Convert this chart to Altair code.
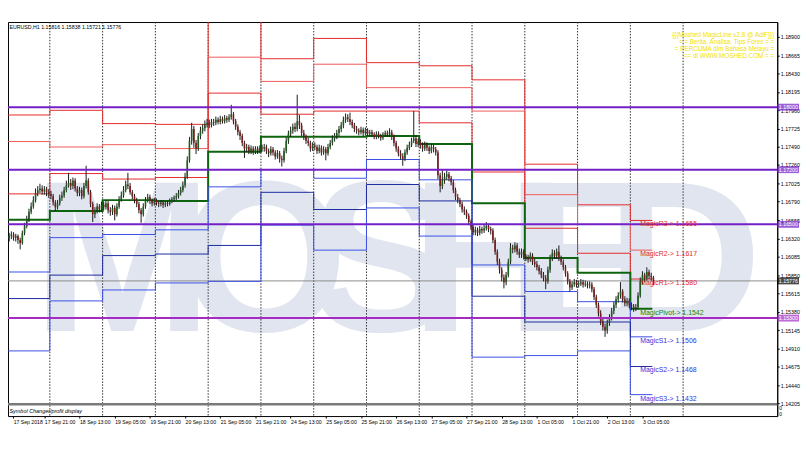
import altair as alt
import pandas as pd

# ---------------- data ----------------
time_labels = ["17 Sep 2018", "17 Sep 21:00", "18 Sep 13:00", "19 Sep 05:00", "19 Sep 21:00",
               "20 Sep 13:00", "21 Sep 05:00", "21 Sep 21:00", "24 Sep 13:00", "25 Sep 05:00",
               "25 Sep 21:00", "26 Sep 13:00", "27 Sep 05:00", "27 Sep 21:00", "28 Sep 13:00",
               "1 Oct 05:00", "1 Oct 21:00", "2 Oct 13:00", "3 Oct 05:00"]
label_every = 16
# H1 bar index where each trading day starts (17 Sep .. 3 Oct, plus 4 Oct grid line)
day_start = [0, 19, 43, 67, 91, 115, 139, 163, 187, 211, 235, 259, 283, 307]

# daily pivot levels (one value per day, 17 Sep .. 3 Oct)
R3 = [1.1790, 1.1796, 1.1779, 1.1778, 1.1938, 1.1862, 1.1888, 1.1857, 1.1853, 1.1835, 1.1727, 1.1675, 1.1655]
R2 = [1.1756, 1.1749, 1.1752, 1.1747, 1.1864, 1.1833, 1.1855, 1.1825, 1.1825, 1.1795, 1.1688, 1.1650, 1.1617]
R1 = [1.1689, 1.1715, 1.1708, 1.1710, 1.1818, 1.1791, 1.1795, 1.1795, 1.1780, 1.1717, 1.1645, 1.1613, 1.1580]
PV = [1.1656, 1.1667, 1.1681, 1.1680, 1.1743, 1.1762, 1.1762, 1.1763, 1.1753, 1.1677, 1.1607, 1.1588, 1.1542]
S1 = [1.1589, 1.1633, 1.1637, 1.1643, 1.1698, 1.1720, 1.1709, 1.1733, 1.1707, 1.1598, 1.1564, 1.1551, 1.1506]
S2 = [1.1555, 1.1585, 1.1610, 1.1612, 1.1623, 1.1691, 1.1669, 1.1701, 1.1680, 1.1558, 1.1525, 1.1525, 1.1468]
S3 = [1.1488, 1.1552, 1.1566, 1.1575, 1.1577, 1.1649, 1.1617, 1.1671, 1.1635, 1.1480, 1.1482, 1.1488, 1.1432]

h_lines = [1.18000, 1.17200, 1.16500, 1.15300]
current_price = 1.15776
y_ticks = [1.14205, 1.14440, 1.14675, 1.14910, 1.15145, 1.15380, 1.15615, 1.15850, 1.16085,
           1.16320, 1.16555, 1.16790, 1.17025, 1.17260, 1.17490, 1.17725, 1.17960, 1.18195,
           1.18430, 1.18665, 1.18900]

first_open = 1.1632
close_17 = [1.1635, 1.1637, 1.1633, 1.1635, 1.1630, 1.1626, 1.1639, 1.1648, 1.1657, 1.1666, 1.1673, 1.1681, 1.1690, 1.1694, 1.1696, 1.1692, 1.1695, 1.1691, 1.1689]
high_17 = [1.1639, 1.1641, 1.1640, 1.1638, 1.1637, 1.1633, 1.1642, 1.1652, 1.1661, 1.1670, 1.1678, 1.1686, 1.1696, 1.1699, 1.1702, 1.1700, 1.1699, 1.1698, 1.1695]
low_17 = [1.1628, 1.1631, 1.1629, 1.1628, 1.1625, 1.1618, 1.1624, 1.1636, 1.1645, 1.1653, 1.1663, 1.1670, 1.1678, 1.1686, 1.1690, 1.1688, 1.1688, 1.1686, 1.1684]
close_18 = [1.1686, 1.1678, 1.1672, 1.1677, 1.1684, 1.1687, 1.1694, 1.1700, 1.1703, 1.1699, 1.1706, 1.1696, 1.1690, 1.1694, 1.1686, 1.1699, 1.1706, 1.1691, 1.1676, 1.1663, 1.1668, 1.1673, 1.1669, 1.1675]
high_18 = [1.1693, 1.1689, 1.1681, 1.1681, 1.1688, 1.1692, 1.1698, 1.1706, 1.1716, 1.1708, 1.1710, 1.1709, 1.1699, 1.1698, 1.1697, 1.1703, 1.1725, 1.1709, 1.1694, 1.1679, 1.1672, 1.1677, 1.1676, 1.1679]
low_18 = [1.1682, 1.1674, 1.1667, 1.1669, 1.1674, 1.1680, 1.1684, 1.1691, 1.1697, 1.1694, 1.1695, 1.1692, 1.1686, 1.1686, 1.1682, 1.1683, 1.1696, 1.1688, 1.1672, 1.1653, 1.1658, 1.1664, 1.1665, 1.1666]
close_19 = [1.1672, 1.1677, 1.1668, 1.1666, 1.1671, 1.1663, 1.1673, 1.1682, 1.1687, 1.1694, 1.1701, 1.1699, 1.1691, 1.1686, 1.1681, 1.1676, 1.1668, 1.1663, 1.1673, 1.1681, 1.1685, 1.1680, 1.1677, 1.1681]
high_19 = [1.1679, 1.1681, 1.1680, 1.1672, 1.1675, 1.1674, 1.1677, 1.1686, 1.1692, 1.1699, 1.1706, 1.1716, 1.1703, 1.1694, 1.1689, 1.1684, 1.1679, 1.1671, 1.1677, 1.1685, 1.1689, 1.1688, 1.1683, 1.1684]
low_19 = [1.1668, 1.1669, 1.1664, 1.1661, 1.1662, 1.1655, 1.1660, 1.1670, 1.1679, 1.1684, 1.1691, 1.1695, 1.1688, 1.1682, 1.1677, 1.1672, 1.1664, 1.1652, 1.1660, 1.1670, 1.1678, 1.1676, 1.1673, 1.1674]
close_20 = [1.1677, 1.1676, 1.1678, 1.1675, 1.1677, 1.1676, 1.1680, 1.1682, 1.1684, 1.1686, 1.1690, 1.1694, 1.1700, 1.1711, 1.1732, 1.1757, 1.1772, 1.1754, 1.1747, 1.1763, 1.1770, 1.1773, 1.1778, 1.1780]
high_20 = [1.1683, 1.1680, 1.1681, 1.1681, 1.1680, 1.1680, 1.1683, 1.1685, 1.1687, 1.1690, 1.1694, 1.1698, 1.1705, 1.1716, 1.1737, 1.1762, 1.1780, 1.1776, 1.1758, 1.1767, 1.1775, 1.1778, 1.1783, 1.1785]
low_20 = [1.1674, 1.1672, 1.1673, 1.1671, 1.1672, 1.1673, 1.1674, 1.1677, 1.1679, 1.1681, 1.1683, 1.1687, 1.1691, 1.1697, 1.1708, 1.1729, 1.1752, 1.1748, 1.1740, 1.1744, 1.1759, 1.1766, 1.1769, 1.1774]
close_21 = [1.1777, 1.1781, 1.1780, 1.1784, 1.1781, 1.1785, 1.1782, 1.1786, 1.1784, 1.1787, 1.1791, 1.1782, 1.1775, 1.1768, 1.1763, 1.1754, 1.1747, 1.1749, 1.1744, 1.1747, 1.1743, 1.1747, 1.1744, 1.1748]
high_21 = [1.1784, 1.1785, 1.1785, 1.1788, 1.1787, 1.1789, 1.1788, 1.1790, 1.1789, 1.1791, 1.1803, 1.1794, 1.1785, 1.1778, 1.1771, 1.1766, 1.1757, 1.1753, 1.1752, 1.1751, 1.1750, 1.1750, 1.1750, 1.1751]
low_21 = [1.1773, 1.1774, 1.1776, 1.1777, 1.1778, 1.1778, 1.1779, 1.1779, 1.1780, 1.1781, 1.1784, 1.1778, 1.1771, 1.1764, 1.1758, 1.1750, 1.1735, 1.1743, 1.1740, 1.1740, 1.1739, 1.1740, 1.1740, 1.1741]
close_24 = [1.1747, 1.1749, 1.1744, 1.1741, 1.1746, 1.1742, 1.1737, 1.1741, 1.1734, 1.1732, 1.1744, 1.1757, 1.1766, 1.1770, 1.1775, 1.1772, 1.1782, 1.1777, 1.1767, 1.1762, 1.1757, 1.1754, 1.1747, 1.1751]
high_24 = [1.1752, 1.1753, 1.1752, 1.1747, 1.1750, 1.1749, 1.1745, 1.1745, 1.1744, 1.1738, 1.1748, 1.1761, 1.1770, 1.1775, 1.1779, 1.1780, 1.1816, 1.1790, 1.1780, 1.1771, 1.1765, 1.1761, 1.1757, 1.1755]
low_24 = [1.1743, 1.1743, 1.1740, 1.1736, 1.1738, 1.1738, 1.1733, 1.1734, 1.1729, 1.1724, 1.1729, 1.1741, 1.1753, 1.1762, 1.1766, 1.1768, 1.1769, 1.1772, 1.1763, 1.1758, 1.1753, 1.1750, 1.1743, 1.1744]
close_25 = [1.1749, 1.1744, 1.1748, 1.1742, 1.1746, 1.1741, 1.1749, 1.1754, 1.1760, 1.1763, 1.1767, 1.1772, 1.1777, 1.1784, 1.1787, 1.1785, 1.1781, 1.1777, 1.1772, 1.1770, 1.1768, 1.1771, 1.1767, 1.1770]
high_25 = [1.1755, 1.1752, 1.1752, 1.1751, 1.1750, 1.1749, 1.1753, 1.1758, 1.1764, 1.1767, 1.1771, 1.1776, 1.1781, 1.1788, 1.1792, 1.1791, 1.1793, 1.1784, 1.1780, 1.1776, 1.1773, 1.1775, 1.1774, 1.1774]
low_25 = [1.1745, 1.1740, 1.1741, 1.1738, 1.1739, 1.1732, 1.1738, 1.1746, 1.1751, 1.1756, 1.1759, 1.1763, 1.1768, 1.1773, 1.1780, 1.1781, 1.1777, 1.1773, 1.1768, 1.1766, 1.1764, 1.1765, 1.1763, 1.1764]
close_26 = [1.1766, 1.1768, 1.1765, 1.1762, 1.1766, 1.1763, 1.1761, 1.1765, 1.1767, 1.1765, 1.1768, 1.1762, 1.1754, 1.1747, 1.1741, 1.1737, 1.1734, 1.1742, 1.1748, 1.1752, 1.1757, 1.1760, 1.1753, 1.1756]
high_26 = [1.1773, 1.1771, 1.1771, 1.1768, 1.1769, 1.1769, 1.1766, 1.1768, 1.1770, 1.1770, 1.1773, 1.1771, 1.1765, 1.1757, 1.1750, 1.1745, 1.1741, 1.1746, 1.1752, 1.1756, 1.1761, 1.1795, 1.1764, 1.1760]
low_26 = [1.1763, 1.1763, 1.1762, 1.1759, 1.1759, 1.1760, 1.1757, 1.1758, 1.1762, 1.1762, 1.1762, 1.1758, 1.1750, 1.1743, 1.1737, 1.1733, 1.1725, 1.1731, 1.1739, 1.1745, 1.1749, 1.1754, 1.1749, 1.1749]
close_27 = [1.1751, 1.1747, 1.1752, 1.1748, 1.1744, 1.1749, 1.1746, 1.1742, 1.1713, 1.1699, 1.1706, 1.1711, 1.1714, 1.1709, 1.1704, 1.1694, 1.1685, 1.1681, 1.1676, 1.1669, 1.1666, 1.1661, 1.1653, 1.1647]
high_27 = [1.1759, 1.1755, 1.1756, 1.1755, 1.1751, 1.1753, 1.1752, 1.1749, 1.1745, 1.1716, 1.1719, 1.1716, 1.1719, 1.1717, 1.1712, 1.1707, 1.1697, 1.1689, 1.1684, 1.1679, 1.1673, 1.1669, 1.1664, 1.1656]
low_27 = [1.1747, 1.1743, 1.1744, 1.1744, 1.1740, 1.1741, 1.1742, 1.1738, 1.1708, 1.1691, 1.1695, 1.1702, 1.1707, 1.1705, 1.1700, 1.1690, 1.1681, 1.1677, 1.1672, 1.1665, 1.1662, 1.1657, 1.1649, 1.1643]
close_28 = [1.1640, 1.1643, 1.1639, 1.1644, 1.1642, 1.1645, 1.1648, 1.1644, 1.1642, 1.1630, 1.1615, 1.1602, 1.1592, 1.1582, 1.1576, 1.1585, 1.1602, 1.1620, 1.1618, 1.1623, 1.1615, 1.1611, 1.1615, 1.1609]
high_28 = [1.1650, 1.1647, 1.1646, 1.1648, 1.1647, 1.1649, 1.1653, 1.1651, 1.1647, 1.1645, 1.1633, 1.1618, 1.1606, 1.1595, 1.1586, 1.1589, 1.1606, 1.1626, 1.1624, 1.1627, 1.1626, 1.1619, 1.1619, 1.1618]
low_28 = [1.1636, 1.1636, 1.1635, 1.1636, 1.1638, 1.1639, 1.1642, 1.1640, 1.1637, 1.1626, 1.1611, 1.1598, 1.1587, 1.1577, 1.1568, 1.1572, 1.1582, 1.1599, 1.1613, 1.1614, 1.1611, 1.1607, 1.1607, 1.1605]
close_01 = [1.1607, 1.1605, 1.1610, 1.1602, 1.1599, 1.1595, 1.1590, 1.1585, 1.1581, 1.1577, 1.1592, 1.1607, 1.1613, 1.1610, 1.1615, 1.1607, 1.1602, 1.1595, 1.1587, 1.1577, 1.1569, 1.1573, 1.1576, 1.1573]
high_01 = [1.1612, 1.1611, 1.1614, 1.1613, 1.1606, 1.1603, 1.1598, 1.1594, 1.1589, 1.1585, 1.1596, 1.1611, 1.1618, 1.1617, 1.1619, 1.1623, 1.1610, 1.1605, 1.1598, 1.1590, 1.1580, 1.1577, 1.1580, 1.1579]
low_01 = [1.1603, 1.1601, 1.1602, 1.1598, 1.1595, 1.1591, 1.1586, 1.1581, 1.1577, 1.1567, 1.1574, 1.1588, 1.1603, 1.1606, 1.1606, 1.1603, 1.1598, 1.1591, 1.1583, 1.1573, 1.1564, 1.1566, 1.1570, 1.1569]
close_02 = [1.1574, 1.1576, 1.1573, 1.1574, 1.1572, 1.1573, 1.1567, 1.1557, 1.1547, 1.1536, 1.1526, 1.1519, 1.1514, 1.1524, 1.1531, 1.1539, 1.1547, 1.1554, 1.1559, 1.1564, 1.1554, 1.1549, 1.1552, 1.1547]
high_02 = [1.1578, 1.1580, 1.1579, 1.1578, 1.1577, 1.1577, 1.1576, 1.1570, 1.1560, 1.1550, 1.1540, 1.1530, 1.1523, 1.1528, 1.1535, 1.1543, 1.1551, 1.1558, 1.1563, 1.1576, 1.1567, 1.1558, 1.1556, 1.1555]
low_02 = [1.1569, 1.1571, 1.1569, 1.1570, 1.1568, 1.1568, 1.1563, 1.1553, 1.1543, 1.1532, 1.1521, 1.1514, 1.1506, 1.1510, 1.1520, 1.1527, 1.1535, 1.1543, 1.1550, 1.1555, 1.1550, 1.1545, 1.1545, 1.1543]
close_03 = [1.1545, 1.1543, 1.1544, 1.1559, 1.1577, 1.1585, 1.1581, 1.1589, 1.1584, 1.1582, 1.1578]
high_03 = [1.1550, 1.1548, 1.1548, 1.1563, 1.1582, 1.1590, 1.1588, 1.1595, 1.1592, 1.1588, 1.1584]
low_03 = [1.1540, 1.1538, 1.1539, 1.1541, 1.1556, 1.1573, 1.1576, 1.1578, 1.1580, 1.1578, 1.1572]

header_text = "EURUSD,H1  1.15816 1.15838 1.15721 1.15776"
info_lines = ["{{{Moshed MagicLine v2.8 @ AdiF}}}",
              "= = Berita, Analisa, Tips Forex = =",
              "= PERCUMA dlm Bahasa Melayu =",
              "== di WWW.MOSHED.COM = ="]
watermark_letters = ["M", "O", "S", "H", "E", "D"]
watermark_bar = [51.5, 116, 169.5, 218, 264, 307]
watermark_price = 1.1514
level_names = ["MagicR3", "MagicR2", "MagicR1", "MagicPivot", "MagicS1", "MagicS2", "MagicS3"]

# ---------------- build tables ----------------
closes = close_17 + close_18 + close_19 + close_20 + close_21 + close_24 + close_25 + close_26 + close_27 + close_28 + close_01 + close_02 + close_03
highs = high_17 + high_18 + high_19 + high_20 + high_21 + high_24 + high_25 + high_26 + high_27 + high_28 + high_01 + high_02 + high_03
lows = low_17 + low_18 + low_19 + low_20 + low_21 + low_24 + low_25 + low_26 + low_27 + low_28 + low_01 + low_02 + low_03
opens = [first_open] + closes[:-1]
n = len(closes)
candles = pd.DataFrame({"bar": list(range(n)), "open": opens, "high": highs, "low": lows, "close": closes})
candles["col"] = ["#1d5c1d" if c >= o else "#7c1a1a" for o, c in zip(opens, closes)]

RED, RED2, GREEN, BLUE, NAVY = "#e52a2a", "#ef5a5a", "#0e640e", "#3b4fe8", "#1d2a9e"
level_series = [("R3", R3, RED, 1), ("R2", R2, RED2, 1), ("R1", R1, RED, 1), ("Pivot", PV, GREEN, 2),
                ("S1", S1, BLUE, 1), ("S2", S2, NAVY, 1), ("S3", S3, BLUE, 1)]
end_bar = n - 1.5
rows = []
for name, vals, col, w in level_series:
    for d, v in enumerate(vals):
        rows.append({"level": name, "bar": day_start[d] - 0.5, "price": v, "ord": d, "col": col, "w": w})
    rows.append({"level": name, "bar": end_bar, "price": vals[-1], "ord": len(vals), "col": col, "w": w})
levels_df = pd.DataFrame(rows)

last_vals = [R3[-1], R2[-1], R1[-1], PV[-1], S1[-1], S2[-1], S3[-1]]
label_df = pd.DataFrame({
    "text": [f"{nm}-> {v:.4f}" for nm, v in zip(level_names, last_vals)],
    "price": last_vals,
    "bar": [day_start[12] + 4] * 7,
    "col": [RED, RED, RED, "#0e8a0e", "#3434e0", "#3434e0", "#3434e0"],
})

grid_df = pd.DataFrame({"bar": [b - 0.5 for b in day_start[1:]]})
hl_df = pd.DataFrame({"price": h_lines, "txt": [f"{v:.5f}" for v in h_lines],
                      "col": ["#7420c8", "#7420c8", "#7420c8", "#a42cc4"]})
cp_df = pd.DataFrame({"price": [current_price], "txt": [f"{current_price:.5f}"]})
wm_df = pd.DataFrame({"letter": watermark_letters, "bar": watermark_bar, "price": [watermark_price] * 6})

# ---------------- scales / encodings ----------------
FONT = "Liberation Sans"
PX_PER_BAR = 2.25
W, H = 777, 398
x0 = -0.5 + 5 / PX_PER_BAR
xscale = alt.Scale(domain=[x0, x0 + W / PX_PER_BAR], nice=False, zero=False)
yscale = alt.Scale(domain=[1.140458, 1.190901], nice=False, zero=False)
tick_vals = [x0 + 0.1] + [i * label_every for i in range(1, len(time_labels))]
xaxis = alt.Axis(values=tick_vals,
                 labelExpr="[" + ",".join(f"'{t}'" for t in time_labels) + "][round(datum.value/16)]",
                 labelAlign="left", labelFontSize=5.2, labelFont=FONT, labelColor="black",
                 tickSize=2, tickColor="black", domain=False, grid=False, title=None,
                 labelPadding=2, labelOverlap=False, labelFlush=False, labelBound=False)
yaxis = alt.Axis(orient="right", values=y_ticks, format=".5f", labelFontSize=5.4, labelFont=FONT,
                 labelColor="black", tickSize=2, tickColor="black", domainColor="black",
                 grid=False, title=None, labelPadding=1, labelOverlap=False, labelFlush=False,
                 labelBound=False)


def X(field):
    return alt.X(field, type="quantitative", scale=xscale, axis=xaxis)


def Y(field):
    return alt.Y(field, type="quantitative", scale=yscale, axis=yaxis)


watermark = alt.Chart(wm_df).mark_text(
    font="Liberation Sans", fontWeight="bold",
    fontSize=218, color="#e0e5ef", baseline="alphabetic", align="center", clip=True
).encode(x=X("bar"), y=Y("price"), text="letter:N")

grid = alt.Chart(grid_df).mark_rule(color="#303030", strokeDash=[1.5, 1.5], strokeWidth=1).encode(x=X("bar"))

hlines = alt.Chart(hl_df).mark_rule(strokeWidth=2).encode(
    y=Y("price"), color=alt.Color("col:N", scale=None))

cpline = alt.Chart(cp_df).mark_rule(color="#8c8c8c", strokeWidth=1).encode(y=Y("price"))

lines = alt.Chart(levels_df).mark_line(interpolate="step-after", clip=True).encode(
    x=X("bar"), y=Y("price"), order="ord:Q",
    color=alt.Color("col:N", scale=None),
    size=alt.Size("w:Q", scale=None),
    detail="level:N")

wicks = alt.Chart(candles).mark_rule(color="#1a1a1a", strokeWidth=1, clip=True).encode(
    x=X("bar"), y=Y("low"), y2="high")
bodies = alt.Chart(candles).mark_bar(size=1.6, clip=True).encode(
    x=X("bar"), y=Y("open"), y2="close", color=alt.Color("col:N", scale=None))

labels = alt.Chart(label_df).mark_text(align="left", baseline="middle", dy=4, fontSize=7, font=FONT).encode(
    x=X("bar"), y=Y("price"), text="text:N", color=alt.Color("col:N", scale=None))

hl_box = alt.Chart(hl_df).mark_tick(orient="horizontal", thickness=7, size=22).encode(
    y=Y("price"), x=alt.value(788), color=alt.Color("col:N", scale=None))
hl_txt = alt.Chart(hl_df).mark_text(align="left", baseline="middle", fontSize=5.4, font=FONT, color="white").encode(
    y=Y("price"), x=alt.value(778.5), text="txt:N")
cp_box = alt.Chart(cp_df).mark_tick(orient="horizontal", thickness=7, size=22, color="black").encode(
    y=Y("price"), x=alt.value(788))
cp_txt = alt.Chart(cp_df).mark_text(align="left", baseline="middle", fontSize=5.4, font=FONT, color="white").encode(
    y=Y("price"), x=alt.value(778.5), text="txt:N")

header = alt.Chart(pd.DataFrame({"t": [header_text]})).mark_text(
    align="left", baseline="middle", fontSize=5.3, font=FONT, color="black").encode(
    x=alt.value(1.5), y=alt.value(5), text="t:N")

info_layers = []
for i, t in enumerate(info_lines):
    info_layers.append(alt.Chart(pd.DataFrame({"t": [t]})).mark_text(
        align="right", baseline="middle", fontSize=6.4, font=FONT, color="#f2df00").encode(
        x=alt.value(774), y=alt.value(13 + 7 * i), text="t:N"))

sep = alt.Chart(pd.DataFrame({"a": [0]})).mark_rule(color="#7a7a7a", strokeWidth=2.5).encode(
    x=alt.value(0), x2=alt.value(W), y=alt.value(386))
sub_txt = alt.Chart(pd.DataFrame({"t": ["Symbol Changer/profit display"]})).mark_text(
    align="left", baseline="middle", fontSize=5.5, font=FONT, fontStyle="italic", color="black").encode(
    x=alt.value(1.5), y=alt.value(393), text="t:N")
zeros = alt.Chart(pd.DataFrame({"t": ["0", "0"], "yy": [390, 396]})).mark_text(
    align="left", baseline="middle", fontSize=5, font=FONT, color="black").encode(
    x=alt.value(779), y=alt.Y("yy:Q", scale=None), text="t:N")

chart = alt.layer(
    watermark, grid, cpline, lines, wicks, bodies, hlines, labels,
    hl_box, hl_txt, cp_box, cp_txt, header, *info_layers, sep, sub_txt, zeros
).properties(
    width=W, height=H,
    padding={"left": 0, "top": 12, "right": 25, "bottom": 20},
    autosize=alt.AutoSizeParams(type="none"),
    background="white",
).configure_view(stroke="black", strokeWidth=1)

chart.save("out.html", embed_options={"renderer": "svg", "actions": False})
